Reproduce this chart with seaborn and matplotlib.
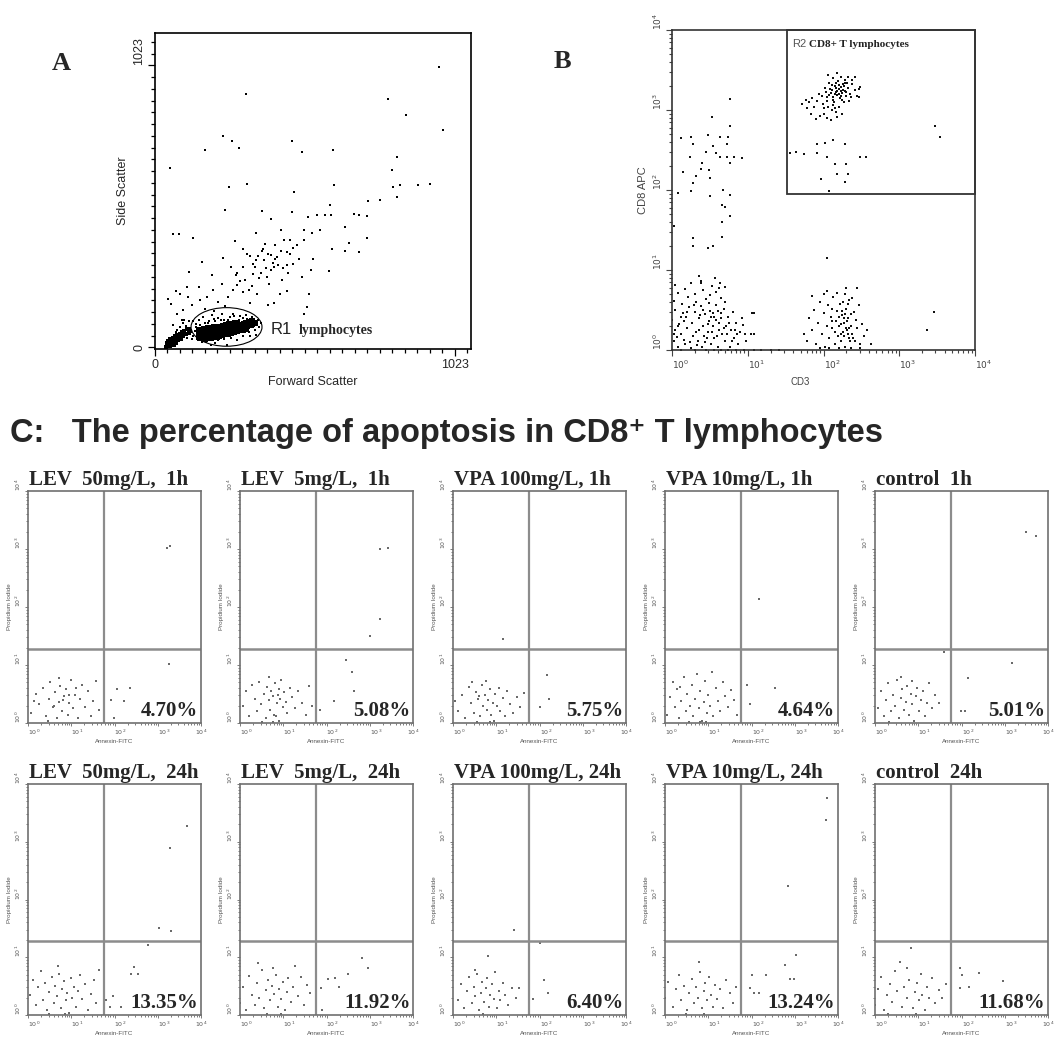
import matplotlib
matplotlib.use("Agg")
import matplotlib.pyplot as plt
import seaborn as sns
import pandas as pd
from matplotlib.patches import Ellipse, Rectangle
from matplotlib.ticker import MultipleLocator, LogLocator, NullFormatter

# ------------------------------------------------------------------ data
# Panel A: forward scatter / side scatter (channel units 0-1023)
A_sparse = [(970, 1015), (309, 918), (796, 901), (855, 843), (981, 789), (233, 767), (262, 750),
            (468, 747), (288, 724), (169, 714), (501, 709), (608, 714), (825, 692), (52, 651),
            (808, 643), (313, 594), (612, 589), (898, 589), (937, 594), (836, 589), (254, 581),
            (811, 581), (473, 563), (827, 545), (767, 536), (725, 530), (597, 517), (240, 499),
            (466, 492), (364, 495), (523, 471), (553, 480), (581, 480), (599, 480), (680, 485),
            (697, 480), (722, 477), (395, 466), (648, 437), (563, 425), (63, 410), (83, 410),
            (131, 397), (346, 415), (429, 427), (508, 425), (724, 397), (662, 379), (649, 350),
            (603, 357), (695, 344), (273, 387), (301, 357), (313, 340), (370, 358), (396, 334),
            (449, 346), (472, 304), (538, 319), (532, 279), (592, 277), (231, 325), (260, 292),
            (162, 311), (115, 273), (196, 264), (276, 263), (342, 292), (377, 289), (407, 293),
            (436, 286), (503, 255), (449, 203), (524, 192), (520, 146), (508, 120), (407, 162),
            (347, 192), (331, 223), (290, 241), (279, 225), (279, 270), (248, 183), (176, 183),
            (111, 183), (70, 204), (44, 177), (53, 159), (94, 134), (125, 154), (151, 219),
            (216, 163), (324, 162), (384, 155), (426, 195), (301, 292), (335, 304), (372, 316),
            (403, 306), (434, 243), (462, 340), (484, 370), (507, 388), (535, 413), (462, 388),
            (439, 388), (417, 328), (381, 255), (335, 267), (307, 243), (319, 207), (267, 207),
            (227, 231), (199, 207), (153, 171), (108, 219), (85, 195), (74, 122), (91, 98),
            (63, 80), (85, 72), (95, 88), (105, 78), (115, 95), (100, 100), (75, 62), (90, 40),
            (110, 35), (125, 30), (70, 55), (355, 250), (390, 230), (420, 300), (455, 270),
            (365, 350), (410, 370), (300, 200), (240, 150), (200, 130), (170, 140), (350, 330),
            (385, 340), (395, 280), (430, 350), (360, 270), (345, 315), (410, 320), (375, 375),
            (325, 330), (450, 300), (470, 360), (490, 320)]
A_halo = [(135, 60), (140, 85), (150, 100), (165, 110), (175, 20), (185, 95), (195, 118), (205, 15),
          (215, 105), (230, 122), (245, 8), (255, 110), (265, 120), (280, 28), (290, 112), (300, 40),
          (310, 118), (320, 55), (330, 110), (340, 62), (350, 100), (355, 75), (345, 45), (325, 40),
          (130, 40), (145, 25), (160, 18), (120, 70), (128, 95), (190, 10), (270, 115), (235, 100),
          (360, 88), (315, 102), (205, 95), (170, 90), (140, 72), (155, 80), (180, 88), (200, 102),
          (225, 98), (250, 100), (285, 100), (300, 105), (335, 75), (320, 70), (195, 25), (215, 28),
          (235, 30), (260, 35), (158, 28), (142, 48)]
A_core = [(150, 38), (152, 52), (149, 62), (160, 45), (162, 58), (158, 35), (170, 42), (171, 55),
          (168, 66), (172, 30), (180, 48), (182, 60), (178, 38), (181, 70), (190, 44), (191, 56),
          (189, 66), (192, 34), (200, 50), (202, 62), (199, 40), (201, 72), (210, 46), (211, 58),
          (209, 68), (212, 36), (220, 52), (222, 64), (219, 42), (221, 75), (230, 55), (231, 67),
          (229, 45), (232, 78), (240, 58), (242, 70), (239, 48), (241, 82), (250, 60), (251, 72),
          (249, 50), (252, 84), (260, 63), (262, 75), (259, 53), (261, 86), (270, 66), (271, 78),
          (269, 56), (272, 88), (280, 68), (282, 80), (279, 58), (281, 90), (290, 70), (291, 82),
          (289, 62), (300, 74), (302, 85), (299, 64), (310, 76), (311, 88), (309, 68), (320, 80),
          (322, 92), (330, 84), (331, 95), (340, 88), (215, 52), (235, 62), (255, 66), (275, 72),
          (195, 50), (175, 50), (265, 60), (245, 64), (225, 58), (285, 76), (205, 56), (185, 52)]
A_debris = [(38, 2), (40, 8), (42, 15), (45, 5), (46, 22), (48, 12), (50, 30), (52, 4), (54, 18),
            (56, 26), (58, 10), (60, 35), (62, 20), (64, 8), (66, 28), (68, 40), (70, 15), (72, 32),
            (75, 45), (78, 25), (80, 38), (84, 50), (88, 30), (92, 55), (96, 42), (100, 60),
            (105, 48), (110, 65), (115, 52), (120, 58), (44, 14), (50, 20), (55, 12)]

# Panel B: CD3 / CD8 APC fluorescence
B_r2 = [(95, 1500), (105, 1900), (112, 1300), (118, 2200), (125, 1650), (130, 1800), (135, 1450),
        (140, 2000), (145, 1700), (150, 1550), (155, 2300), (160, 1850), (165, 1400), (170, 1950),
        (175, 1650), (180, 2100), (190, 1750), (200, 1500), (210, 1900), (225, 1600), (240, 2100),
        (260, 1800), (280, 1500), (300, 1950), (120, 1550), (128, 2050), (138, 1250), (148, 1900),
        (158, 1600), (168, 1750), (178, 1350), (188, 2000), (198, 1700), (108, 1700), (98, 1200),
        (88, 1600), (82, 1300), (75, 1100), (70, 1400), (65, 1250), (60, 1050), (115, 1100),
        (128, 1000), (145, 950), (160, 1100), (100, 900), (112, 800), (125, 750), (90, 850),
        (150, 820), (175, 900), (135, 2500), (115, 2700), (150, 2900), (170, 2600), (190, 2400),
        (210, 2550), (240, 2350), (260, 2600), (205, 2200), (58, 1350), (52, 1200), (68, 900),
        (80, 780), (140, 1050), (185, 1250), (220, 1300), (230, 1450), (290, 1450), (290, 1850),
        (142, 1600), (132, 1350), (152, 1750), (162, 2050), (122, 1850), (172, 1500), (182, 1800),
        (110, 1450), (195, 2150), (145, 2200), (135, 1150), (102, 1050),
        (81, 380), (105, 385), (135, 420), (190, 380), (36, 290), (44, 300), (55, 280), (81, 290),
        (110, 260), (300, 260), (360, 255), (140, 210), (200, 210), (150, 160), (210, 160),
        (92, 137), (190, 127), (120, 98)]
B_upper_left = [(5.8, 1390), (3.4, 810), (5.9, 630), (1.3, 445), (1.8, 465), (3.0, 490), (4.3, 455),
                (5.5, 465), (1.9, 380), (3.5, 350), (5.4, 380), (2.8, 300), (3.8, 290), (4.3, 260),
                (5.3, 260), (6.5, 260), (8.4, 250), (1.75, 260), (2.5, 215), (2.4, 185), (3.1, 178),
                (1.4, 170), (5.9, 215), (2.1, 148), (3.2, 141), (1.9, 124), (1.2, 91), (1.8, 98),
                (3.2, 83), (4.7, 100), (5.9, 87), (4.6, 65), (5.0, 62), (5.8, 47), (4.6, 40),
                (1.05, 35), (1.9, 25), (1.9, 20), (3.0, 19), (3.5, 20), (4.6, 26)]
B_lower_left = [(1.0, 1.0), (1.05, 1.3), (1.1, 1.8), (1.0, 2.4), (1.1, 3.2), (1.05, 4.1), (1.2, 1.1),
                (1.3, 1.6), (1.25, 2.1), (1.4, 2.9), (1.35, 3.8), (1.5, 1.2), (1.6, 1.9), (1.55, 2.6),
                (1.7, 3.4), (1.65, 4.6), (1.8, 1.05), (1.9, 1.5), (1.85, 2.2), (2.0, 3.0), (2.1, 4.0),
                (2.2, 1.3), (2.3, 1.8), (2.25, 2.5), (2.4, 3.5), (2.5, 1.1), (2.6, 2.0), (2.7, 2.8),
                (2.8, 4.4), (2.9, 1.4), (3.0, 1.7), (3.1, 2.3), (3.2, 3.1), (3.3, 1.2), (3.5, 2.0),
                (3.6, 2.6), (3.8, 3.6), (3.9, 1.5), (4.0, 1.1), (4.2, 2.2), (4.4, 2.9), (4.6, 1.6),
                (4.8, 3.3), (5.0, 1.3), (5.2, 2.0), (5.5, 2.6), (5.8, 1.1), (6.0, 1.8), (6.3, 3.0),
                (6.6, 1.4), (7.0, 2.2), (7.4, 1.2), (8.0, 1.7), (8.5, 2.5), (9.5, 1.3), (11, 1.6),
                (12, 2.9), (1.2, 5.2), (1.5, 5.8), (2.0, 5.0), (2.6, 5.6), (3.2, 4.9), (3.8, 5.3),
                (4.4, 4.5), (5.0, 4.0), (1.1, 6.5), (1.8, 6.8), (2.4, 7.2), (3.4, 6.4), (4.2, 6.0),
                (2.3, 8.5), (2.4, 6.8), (3.7, 8.0), (4.3, 6.8), (5.0, 6.1), (1.3, 1.0), (2.0, 1.0),
                (2.8, 1.0), (3.6, 1.0), (4.5, 1.0), (5.5, 1.0), (7.0, 1.0), (9.0, 1.0), (12, 1.0),
                (15, 1.0), (20, 1.0), (26, 1.0), (8.6, 2.05), (7.3, 1.6), (9.3, 1.6), (11.3, 2.9),
                (12, 1.6), (1.15, 1.45), (1.45, 2.3), (1.75, 1.25), (2.05, 1.7), (2.35, 2.7),
                (2.65, 1.5), (2.95, 2.1), (3.25, 2.6), (3.55, 1.4), (3.85, 2.4), (4.15, 1.8),
                (4.5, 2.5), (4.9, 1.9), (5.3, 1.6), (5.7, 2.2), (6.2, 1.3), (6.8, 1.8), (1.3, 2.6),
                (1.6, 3.0), (1.95, 3.6), (2.55, 3.2), (3.05, 3.9), (3.45, 2.9), (4.05, 3.1),
                (1.05, 1.6), (1.2, 2.0), (1.45, 1.35), (2.15, 1.15), (2.75, 1.25), (3.35, 1.7)]
B_lower_mid = [(60, 1.3), (65, 2.5), (70, 1.8), (75, 3.2), (80, 1.2), (85, 2.2), (90, 4.0), (95, 1.6),
               (100, 2.9), (105, 1.1), (110, 2.0), (115, 3.6), (120, 1.4), (125, 2.6), (130, 1.9),
               (135, 4.6), (140, 1.2), (145, 2.3), (150, 3.1), (155, 1.5), (160, 2.0), (165, 3.8),
               (170, 1.3), (175, 2.7), (180, 1.7), (185, 2.2), (190, 5.0), (195, 1.1), (200, 3.3),
               (205, 1.8), (210, 2.5), (215, 1.4), (220, 4.2), (230, 2.0), (240, 1.6), (250, 3.0),
               (260, 1.3), (270, 2.4), (280, 1.9), (290, 3.6), (300, 1.2), (320, 2.1), (340, 1.5),
               (380, 1.8), (420, 1.2), (110, 5.5), (150, 5.2), (200, 6.0), (275, 5.9), (100, 5.0),
               (240, 4.5), (180, 4.0), (130, 3.3), (160, 1.05), (120, 1.05), (90, 1.05), (230, 1.05),
               (300, 1.05), (70, 4.8), (55, 1.6), (158, 2.6), (172, 2.1), (188, 1.5), (202, 2.3),
               (218, 1.9), (232, 2.8), (248, 1.4), (178, 3.1), (192, 2.8), (208, 3.8), (142, 1.7),
               (128, 2.3), (168, 1.6), (225, 1.3), (196, 1.9), (184, 2.5), (212, 1.6)]
B_isolated = [(110, 14), (2950, 630), (3400, 465), (2900, 3.0), (2350, 1.8)]

# Panel C: Annexin-FITC / Propidium iodide, one list per sample
p1_pts = [(1.2, 1.5), (1.5, 3.2), (1.8, 2.1), (2.2, 4.0), (2.6, 1.3), (3.0, 2.6), (3.3, 5.0), (3.8, 1.9),
          (4.2, 3.4), (4.6, 1.2), (5.1, 2.3), (5.6, 4.4), (6.0, 1.6), (6.8, 2.9), (7.5, 3.8), (8.2, 1.4),
          (9.0, 2.2), (10, 5.5), (11, 1.8), (12.5, 3.1), (14, 1.2), (16, 2.6), (18, 4.6), (21, 1.9),
          (24, 3.5), (28, 1.3), (32, 2.4), (38, 5.2), (44, 1.7), (2.9, 1.1), (4.0, 2.0), (6.5, 2.5),
          (8.8, 3.0), (1.4, 2.4), (5.3, 6.0), (13, 4.0), (113, 3.8), (224, 4.0), (170, 2.4),
          (83, 2.5), (1780, 10.3), (95, 1.2), (1600, 1050), (1900, 1120)]
p2_pts = [(1.2, 2.0), (1.4, 3.5), (1.6, 1.3), (1.9, 4.5), (2.2, 2.6), (2.5, 1.6), (2.8, 5.0), (3.1, 2.1),
          (3.5, 3.2), (3.9, 1.2), (4.2, 4.2), (4.6, 2.5), (5.0, 1.7), (5.3, 3.6), (5.7, 2.9), (6.1, 1.4),
          (6.5, 4.8), (7.0, 2.2), (7.4, 3.1), (7.9, 1.1), (8.4, 2.6), (9.0, 5.6), (9.8, 1.9), (10.5, 3.4),
          (11.5, 2.3), (12.5, 1.5), (14, 4.0), (16, 2.8), (19, 1.8), (22, 3.6), (27, 2.2), (33, 1.4),
          (40, 4.4), (47, 2.0), (4.8, 6.2), (6.8, 1.3), (3.3, 1.05), (5.9, 1.05), (8.0, 3.9),
          (282, 12), (380, 7.6), (440, 3.6), (150, 2.4), (72, 1.7), (1740, 1000), (2600, 1050),
          (1740, 63), (1000, 32)]
p3_pts = [(1.3, 1.6), (1.6, 3.0), (1.9, 1.2), (2.3, 4.2), (2.6, 2.2), (3.0, 1.5), (3.4, 3.4), (3.8, 2.6),
          (4.2, 1.3), (4.6, 4.6), (5.0, 2.0), (5.5, 3.0), (6.0, 1.7), (6.5, 2.5), (7.0, 3.8), (7.6, 1.4),
          (8.2, 2.2), (8.9, 1.1), (9.5, 3.2), (10.5, 2.0), (11.5, 4.0), (12.5, 1.6), (14, 2.7), (16, 1.3),
          (18, 3.5), (21, 2.1), (25, 1.5), (30, 2.8), (36, 1.9), (44, 3.3), (2.8, 5.0), (5.8, 5.3),
          (3.6, 1.05), (7.2, 1.05), (1.1, 2.4), (4.0, 2.9), (14, 28), (150, 6.7), (170, 2.6), (100, 1.9)]
p4_pts = [(1.1, 1.4), (1.3, 2.8), (1.5, 5.0), (1.7, 1.9), (1.9, 3.8), (2.1, 1.2), (2.4, 2.4), (2.7, 6.2),
          (3.0, 1.6), (3.3, 3.2), (3.7, 2.0), (4.1, 4.6), (4.5, 1.3), (5.0, 2.6), (5.5, 7.0), (6.0, 1.8),
          (6.6, 3.5), (7.2, 1.1), (7.8, 2.3), (8.5, 5.4), (9.3, 1.5), (10, 3.0), (11, 2.0), (12, 7.6),
          (13, 1.3), (15, 4.0), (17, 2.4), (19, 1.6), (22, 5.0), (25, 2.9), (29, 1.9), (34, 3.7),
          (40, 2.5), (46, 1.4), (2.2, 4.2), (3.5, 1.05), (6.3, 1.05), (9.0, 1.05), (80, 4.5),
          (355, 4.0), (91, 2.1), (150, 138)]
p5_pts = [(1.2, 1.8), (1.4, 3.6), (1.6, 1.3), (1.8, 2.5), (2.0, 4.8), (2.3, 1.6), (2.6, 3.0), (2.9, 2.0),
          (3.2, 5.5), (3.5, 1.2), (3.9, 2.7), (4.3, 3.9), (4.7, 1.7), (5.1, 2.3), (5.6, 4.4), (6.1, 1.4),
          (6.7, 3.2), (7.3, 2.1), (8.0, 1.1), (8.8, 2.9), (9.6, 4.0), (10.5, 1.6), (11.5, 2.5), (13, 3.5),
          (14.5, 1.3), (16, 2.2), (18, 4.8), (21, 1.8), (25, 3.0), (30, 2.2), (40, 17), (4.0, 6.3),
          (7.0, 5.2), (2.1, 1.05), (1440, 11), (144, 5.9), (99, 1.6), (120, 1.6), (3150, 2000),
          (5300, 1660)]
p6_pts = [(1.1, 2.2), (1.3, 4.0), (1.5, 1.5), (1.7, 3.0), (2.0, 5.8), (2.2, 1.8), (2.5, 3.6), (2.8, 1.2),
          (3.1, 2.5), (3.5, 4.6), (3.9, 1.6), (4.3, 3.2), (4.7, 2.1), (5.2, 5.2), (5.7, 1.3), (6.2, 2.8),
          (6.8, 3.9), (7.4, 1.8), (8.1, 2.4), (8.9, 1.1), (9.7, 4.4), (10.6, 2.0), (11.6, 3.0), (12.7, 1.4),
          (14, 2.6), (16, 5.0), (18, 1.9), (21, 3.4), (24, 1.2), (28, 2.3), (33, 4.1), (38, 1.6),
          (44, 6.0), (5.0, 7.0), (3.0, 1.05), (7.0, 1.05), (580, 16), (290, 6.7), (240, 5.1),
          (355, 5.1), (93, 2.1), (65, 1.8), (138, 1.4), (78, 1.4), (4800, 1900), (1900, 780),
          (1080, 32), (2000, 28)]
p7_pts = [(1.0, 1.6), (1.2, 3.0), (1.4, 1.2), (1.6, 4.8), (1.9, 2.2), (2.2, 1.5), (2.5, 3.6), (2.8, 2.0),
          (3.2, 6.0), (3.6, 1.3), (4.0, 2.7), (4.5, 4.1), (5.0, 1.8), (5.5, 3.2), (6.1, 2.3), (6.7, 5.0),
          (7.4, 1.4), (8.1, 2.8), (8.9, 1.9), (9.8, 3.8), (10.8, 1.2), (12, 2.5), (13, 4.4), (15, 1.7),
          (17, 3.0), (19, 7.0), (22, 2.1), (26, 4.6), (30, 1.5), (36, 3.3), (42, 2.4), (2.6, 7.8),
          (5.8, 6.6), (9.0, 1.05), (4.2, 1.05), (650, 9.6), (930, 6.5), (316, 5.1), (155, 4.3),
          (110, 4.2), (196, 3.1), (76, 2.9), (80, 1.2)]
p8_pts = [(1.3, 1.8), (1.5, 3.4), (1.8, 1.3), (2.1, 2.6), (2.4, 4.5), (2.7, 1.6), (3.0, 3.0), (3.3, 2.1),
          (3.6, 5.2), (4.0, 1.2), (4.4, 2.4), (4.8, 3.8), (5.2, 1.7), (5.7, 2.9), (6.2, 4.4), (6.7, 1.4),
          (7.3, 2.2), (8.0, 3.4), (8.7, 1.9), (9.5, 5.6), (10.3, 1.3), (11.3, 2.6), (12.5, 1.8), (14, 3.6),
          (16, 2.2), (19, 1.5), (23, 2.9), (28, 2.0), (34, 2.9), (6.6, 10.5), (5.0, 1.05), (3.2, 6.0),
          (26, 30), (126, 4.1), (160, 2.4), (71, 1.9), (100, 18)]
p9_pts = [(1.0, 2.0), (1.2, 3.8), (1.5, 1.4), (1.8, 2.8), (2.1, 5.0), (2.4, 1.8), (2.8, 3.2), (3.2, 1.2),
          (3.6, 2.4), (4.1, 4.2), (4.6, 1.6), (5.2, 3.0), (5.8, 2.0), (6.4, 5.6), (7.1, 1.3), (7.8, 2.6),
          (8.6, 3.6), (9.5, 1.8), (10.5, 4.6), (11.6, 2.2), (12.8, 1.4), (14, 3.3), (16, 1.9), (19, 2.8),
          (22, 1.3), (26, 4.0), (31, 2.4), (37, 1.6), (44, 3.1), (6, 8.4), (3.0, 1.05), (8.0, 1.05),
          (1050, 11), (590, 7.3), (780, 4.2), (950, 4.2), (220, 4.9), (100, 4.9), (90, 2.9),
          (115, 2.4), (147, 2.4), (710, 170), (5500, 5700), (5200, 2400)]
p10_pts = [(1.0, 1.5), (1.2, 2.8), (1.4, 4.5), (1.6, 1.2), (1.9, 2.2), (2.2, 3.5), (2.5, 1.7), (2.9, 5.8),
           (3.3, 2.6), (3.8, 8.4), (4.3, 1.4), (4.8, 3.0), (5.4, 2.0), (6.0, 4.0), (6.8, 14.6), (7.5, 1.3),
           (8.3, 2.5), (9.2, 3.6), (10.2, 1.8), (11.3, 5.2), (12.5, 2.2), (14, 1.2), (16, 3.0), (18, 2.0),
           (21, 4.4), (25, 1.6), (30, 2.7), (36, 2.0), (43, 3.4), (5.5, 6.4), (2.0, 1.05), (9.0, 1.05),
           (93, 6.4), (103, 4.9), (258, 5.3), (910, 3.9), (93, 2.9), (152, 3.0)]

c_titles = ["LEV  50mg/L,  1h", "LEV  5mg/L,  1h", "VPA 100mg/L, 1h", "VPA 10mg/L, 1h", "control  1h",
            "LEV  50mg/L,  24h", "LEV  5mg/L,  24h", "VPA 100mg/L, 24h", "VPA 10mg/L, 24h", "control  24h"]
c_percent = ["4.70%", "5.08%", "5.75%", "4.64%", "5.01%",
             "13.35%", "11.92%", "6.40%", "13.24%", "11.68%"]
gate_annexin = 56
gate_pi = 19
log_ticks = [1, 10, 100, 1000, 10000]
log_labels = [r"$10^{0}$", r"$10^{1}$", r"$10^{2}$", r"$10^{3}$", r"$10^{4}$"]

# ------------------------------------------------------------------ style
sns.set_theme(style="white")
plt.rcParams["font.family"] = ["Liberation Sans", "DejaVu Sans"]
plt.rcParams["mathtext.fontset"] = "dejavusans"
SERIF = ["Liberation Serif", "DejaVu Serif"]

W, H = 1055, 1041
fig = plt.figure(figsize=(W / 100, H / 100), dpi=100)
fig.patch.set_facecolor("white")


def rect(x0, y0, x1, y1):
    return [x0 / W, 1 - y1 / H, (x1 - x0) / W, (y1 - y0) / H]


def scatter(ax, pts, xname, yname, size, color):
    df = pd.DataFrame(pts, columns=[xname, yname])
    sns.scatterplot(data=df, x=xname, y=yname, ax=ax, s=size, color=color,
                    marker="s", linewidth=0, legend=False)


# ------------------------------------------------------------------ panel A
axA = fig.add_axes(rect(155, 33, 471, 349))
scatter(axA, A_sparse, "FSC", "SSC", 3, "black")
scatter(axA, A_halo, "FSC", "SSC", 3, "black")
scatter(axA, A_debris, "FSC", "SSC", 7, "black")
scatter(axA, A_core, "FSC", "SSC", 18, "black")
axA.set_xlim(0, 1078)
axA.set_ylim(-6, 1140)
axA.set_xticks([0, 1023])
axA.set_xticklabels(["0", "1023"], fontsize=9)
axA.set_yticks([0, 1023])
ylabsA = axA.set_yticklabels(["0", "1023"], fontsize=9, rotation=90)
ylabsA[0].set_va("center")
ylabsA[1].set_va("bottom")
axA.xaxis.set_minor_locator(MultipleLocator(1023 / 24))
axA.yaxis.set_minor_locator(MultipleLocator(1023 / 24))
axA.tick_params(which="both", direction="out", bottom=True, left=True, top=False, right=False,
                color="black", width=0.9)
axA.tick_params(which="major", length=5, pad=2)
axA.tick_params(which="minor", length=3)
for sp in axA.spines.values():
    sp.set_visible(True)
    sp.set_color("black")
    sp.set_linewidth(1.2)
axA.set_xlabel("Forward Scatter", fontsize=9, labelpad=4)
axA.set_ylabel("Side Scatter", fontsize=9, labelpad=3)
axA.add_patch(Ellipse((244, 74), 242, 140, fill=False, ec="black", lw=0.8))
axA.text(395, 66, "R1", fontsize=12, va="center", ha="left", color="#222222")
axA.text(490, 62, "lymphocytes", fontsize=10, fontweight="bold", family=SERIF,
         va="center", ha="left")
fig.text(52 / W, 1 - 70 / H, "A", fontsize=19, fontweight="bold", family=SERIF, va="baseline")

# ------------------------------------------------------------------ panel B
axB = fig.add_axes(rect(672, 30, 975, 350))
axB.set_xscale("log")
axB.set_yscale("log")
for grp in (B_lower_left, B_lower_mid, B_upper_left, B_r2, B_isolated):
    scatter(axB, grp, "CD3", "CD8", 4, "#111111")
axB.set_xlim(1, 1e4)
axB.set_ylim(1, 1e4)
axB.set_xticks(log_ticks)
axB.set_xticklabels(log_labels, fontsize=6.5, color="#444444", ha="left")
axB.set_yticks(log_ticks)
axB.set_yticklabels(log_labels, fontsize=6.5, color="#444444", rotation=90, va="bottom")
for axis in (axB.xaxis, axB.yaxis):
    axis.set_minor_locator(LogLocator(base=10, subs=[2, 3, 4, 5, 6, 7, 8, 9], numticks=20))
    axis.set_minor_formatter(NullFormatter())
axB.tick_params(which="both", direction="out", bottom=True, left=True, top=False, right=False,
                color="#444444", width=0.8)
axB.tick_params(which="major", length=4, pad=2)
axB.tick_params(which="minor", length=2)
for sp in axB.spines.values():
    sp.set_visible(True)
    sp.set_color("#333333")
    sp.set_linewidth(1.2)
axB.add_patch(Rectangle((33, 90), 1e4 - 33, 1e4 - 90, fill=False, ec="#333333", lw=1.3,
                        clip_on=False))
axB.text(0.398, 0.955, "R2", transform=axB.transAxes, fontsize=8, color="#555555",
         va="center", ha="left")
axB.text(0.452, 0.955, "CD8+ T lymphocytes", transform=axB.transAxes, fontsize=8,
         fontweight="bold", family=SERIF, va="center", ha="left", color="#222222")
axB.set_xlabel("CD3", fontsize=7, color="#444444")
axB.xaxis.set_label_coords((800 - 672) / 303, -0.085)
axB.set_ylabel("CD8 APC", fontsize=8, color="#444444")
axB.yaxis.set_label_coords(-0.08, 0.5)
fig.text(554 / W, 1 - 68 / H, "B", fontsize=19, fontweight="bold", family=SERIF, va="baseline")

# ------------------------------------------------------------------ panel C
fig.text(10 / W, 1 - 442 / H, "C:   The percentage of apoptosis in CD8\u207a T lymphocytes",
         fontsize=23.5, fontweight="bold", va="baseline")

panels = [p1_pts, p2_pts, p3_pts, p4_pts, p5_pts, p6_pts, p7_pts, p8_pts, p9_pts, p10_pts]
col_left = [28, 240, 453, 665, 875]
row_span = [(491, 723), (784, 1015)]

for i, pts in enumerate(panels):
    r, c = divmod(i, 5)
    y0, y1 = row_span[r]
    ax = fig.add_axes(rect(col_left[c], y0, col_left[c] + 173, y1))
    ax.set_xscale("log")
    ax.set_yscale("log")
    scatter(ax, pts, "Annexin", "PI", 2.2, "#6a6a6a")
    ax.set_xlim(1, 1e4)
    ax.set_ylim(1, 1e4)
    ax.axvline(gate_annexin, color="#8c8c8c", lw=1.6)
    ax.axhline(gate_pi, color="#8c8c8c", lw=1.8)
    ax.set_xticks(log_ticks)
    xl = ax.set_xticklabels(log_labels, fontsize=4.5, color="#555555", ha="left")
    xl[-1].set_ha("center")
    ax.set_yticks(log_ticks)
    ax.set_yticklabels(log_labels, fontsize=4.5, color="#555555", rotation=90, va="bottom")
    for axis in (ax.xaxis, ax.yaxis):
        axis.set_minor_locator(LogLocator(base=10, subs=[2, 3, 4, 5, 6, 7, 8, 9], numticks=20))
        axis.set_minor_formatter(NullFormatter())
    ax.tick_params(which="both", direction="out", bottom=True, left=True, top=False, right=False,
                   color="#666666", width=0.6)
    ax.tick_params(which="major", length=2.5, pad=1)
    ax.tick_params(which="minor", length=1.5)
    for sp in ax.spines.values():
        sp.set_visible(True)
        sp.set_color("#707070")
        sp.set_linewidth(1.2)
    ax.set_xlabel("Annexin-FITC", fontsize=4.5, color="#555555", labelpad=1)
    ax.set_ylabel("Propidium Iodide", fontsize=4.5, color="#555555", labelpad=1)
    ax.text(0.008, 1.004, c_titles[i], transform=ax.transAxes, fontsize=15, fontweight="bold",
            family=SERIF, ha="left", va="bottom")
    ax.text(0.985, 0.03, c_percent[i], transform=ax.transAxes, fontsize=15, fontweight="bold",
            family=SERIF, ha="right", va="baseline")

fig.savefig("out.png", dpi=100, facecolor="white")
